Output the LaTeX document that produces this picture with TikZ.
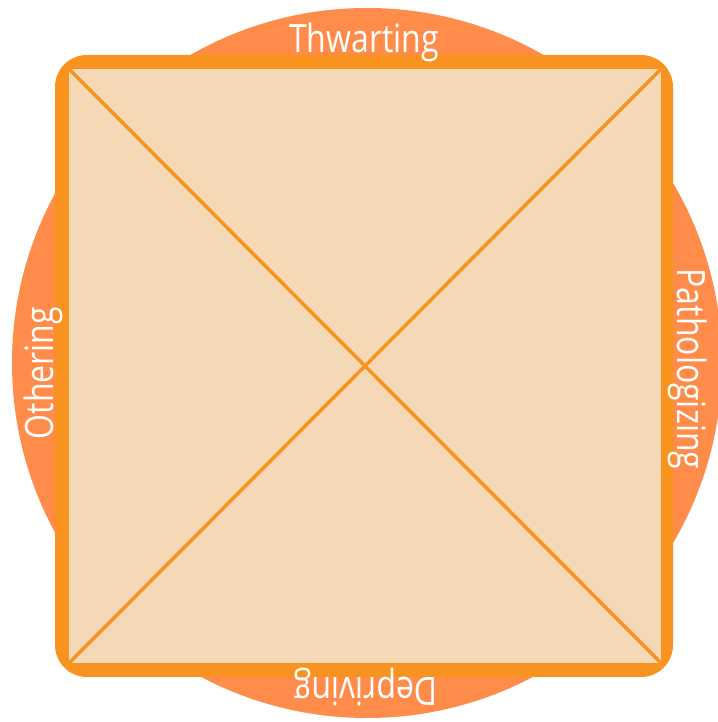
\documentclass[tikz,border=0pt]{standalone}
\usepackage{fontspec}
\setmainfont{Open Sans}
\usepackage{xcolor}
\usepackage{tikz}
\usetikzlibrary{positioning}
\definecolor{RingOrange}{HTML}{FF8C4B}
\definecolor{FrameOrange}{HTML}{F7931E}
\definecolor{PanelBeige}{HTML}{F5D8B6}
\newcommand{\tallword}[1]{\scalebox{1}[1.22]{#1}}

\begin{document}
\begin{tikzpicture}[
  x=1pt,y=1pt,
  every node/.style={inner sep=0pt,outer sep=0pt},
  ring/.style={circle,fill=RingOrange,minimum size=710pt},
  frame/.style={rectangle,fill=FrameOrange,rounded corners=32pt,minimum width=618pt,minimum height=622pt},
  panel/.style={rectangle,fill=PanelBeige,minimum width=592pt,minimum height=594pt},
  diag/.style={draw=FrameOrange,line width=3.5pt},
  lbl/.style={text=white,font=\fontsize{32}{32}\selectfont,anchor=base}
]
  \useasboundingbox (0,0) rectangle (717,722);
  \node[ring] (ring) at (367,359) {};
  \node[frame] (frame) at (364,356) {};
  \node[panel] (panel) at (365,356) {};
  \draw[diag] (panel.north west) -- (panel.south east);
  \draw[diag] (panel.north east) -- (panel.south west);
  \node[lbl] (thw) at (364,669) {\tallword{Thwarting}};
  \node[lbl,rotate=180] (dep) at (366,44) {\tallword{Depriving}};
  \node[lbl,rotate=90] (oth) at (53,349) {\tallword{Othering}};
  \node[lbl,rotate=-90] (pat) at (677,353) {\tallword{Pathologizing}};
\end{tikzpicture}
\end{document}
